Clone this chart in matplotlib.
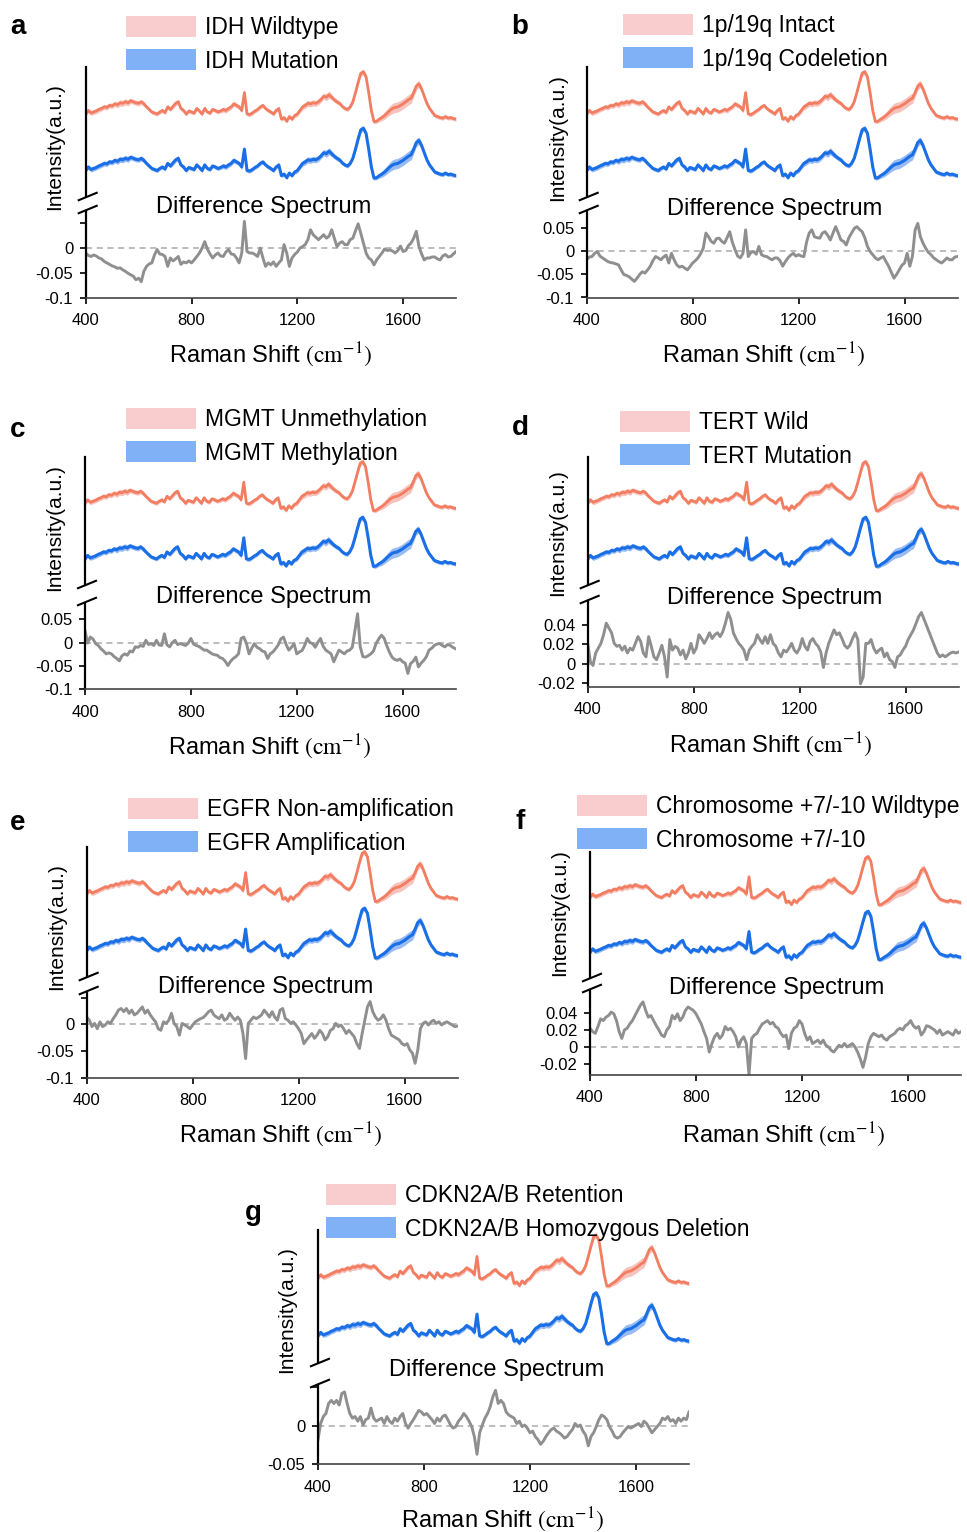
import numpy as np
import matplotlib
matplotlib.use('Agg')
import matplotlib.pyplot as plt
from matplotlib.patches import Patch
from matplotlib.lines import Line2D

plt.rcParams['font.family'] = ['Liberation Sans', 'DejaVu Sans']
plt.rcParams['mathtext.fontset'] = 'stix'

# ---------------- data ----------------
raman_shift = np.arange(400, 1801, 10)

# mean normalised spectrum (same shape for both groups in every panel)
mean_spectrum = [
    0.17, 0.24, 0.19, 0.21, 0.23, 0.26, 0.28, 0.31, 0.30, 0.34,
    0.33, 0.37, 0.35, 0.39, 0.38, 0.41, 0.39, 0.43, 0.41, 0.39,
    0.38, 0.41, 0.37, 0.31, 0.26, 0.21, 0.19, 0.17, 0.21, 0.24,
    0.20, 0.31, 0.26, 0.32, 0.38, 0.41, 0.28, 0.24, 0.17, 0.23,
    0.21, 0.19, 0.28, 0.23, 0.17, 0.28, 0.21, 0.19, 0.26, 0.24,
    0.21, 0.23, 0.26, 0.24, 0.28, 0.31, 0.37, 0.34, 0.31, 0.24,
    0.59, 0.17, 0.16, 0.19, 0.23, 0.26, 0.31, 0.34, 0.28, 0.24,
    0.21, 0.17, 0.24, 0.28, 0.07, 0.10, 0.03, 0.12, 0.07, 0.14,
    0.17, 0.24, 0.31, 0.34, 0.38, 0.37, 0.39, 0.38, 0.41, 0.46,
    0.52, 0.50, 0.55, 0.50, 0.45, 0.41, 0.38, 0.32, 0.28, 0.26,
    0.31, 0.41, 0.59, 0.79, 0.97, 1.00, 0.90, 0.59, 0.24, 0.02,
    0.03, 0.07, 0.10, 0.14, 0.19, 0.24, 0.28, 0.30, 0.31, 0.34,
    0.37, 0.41, 0.45, 0.48, 0.59, 0.72, 0.76, 0.66, 0.52, 0.38,
    0.28, 0.21, 0.14, 0.12, 0.10, 0.09, 0.12, 0.09, 0.10, 0.08,
    0.07,
]

# half width of the shaded band around each mean spectrum
band_halfwidth = [
    .04, .04, .05, .05, .05, .05, .05, .05, .05, .05,
    .05, .05, .06, .06, .06, .06, .06, .05, .05, .05,
    .05, .05, .05, .04, .04, .04, .04, .04, .04, .04,
    .04, .04, .04, .05, .05, .05, .04, .04, .04, .04,
    .04, .04, .04, .04, .04, .04, .04, .04, .04, .04,
    .04, .04, .05, .05, .05, .05, .05, .05, .04, .05,
    .07, .04, .04, .04, .04, .04, .04, .04, .04, .04,
    .04, .04, .04, .04, .04, .04, .04, .04, .04, .04,
    .05, .05, .06, .06, .06, .06, .06, .06, .06, .06,
    .06, .07, .07, .06, .05, .05, .04, .04, .04, .04,
    .04, .04, .05, .05, .06, .05, .05, .04, .04, .04,
    .04, .05, .06, .07, .08, .09, .10, .10, .10, .10,
    .10, .10, .10, .10, .09, .08, .07, .06, .05, .05,
    .04, .04, .04, .04, .04, .04, .04, .04, .04, .04,
    .04,
]

diff_idh = [
    -0.010, -0.015, -0.017, -0.014, -0.016, -0.020, -0.022, -0.027, -0.030, -0.033,
    -0.036, -0.038, -0.041, -0.040, -0.044, -0.047, -0.051, -0.054, -0.057, -0.064,
    -0.061, -0.068, -0.047, -0.037, -0.032, -0.030, -0.014, -0.003, -0.012, -0.013,
    -0.017, -0.037, -0.020, -0.026, -0.022, -0.017, -0.033, -0.028, -0.030, -0.026,
    -0.030, -0.024, -0.017, -0.010, 0.000, 0.013, -0.002, -0.012, -0.020, -0.014,
    -0.010, -0.016, -0.017, -0.008, -0.003, -0.012, -0.013, -0.020, -0.030, -0.010,
    0.054, -0.007, -0.010, -0.010, -0.013, -0.017, 0.000, -0.020, -0.037, -0.030,
    -0.034, -0.028, -0.037, -0.030, -0.024, 0.007, -0.010, -0.037, -0.020, -0.013,
    -0.008, 0.000, 0.003, 0.007, 0.017, 0.037, 0.027, 0.022, 0.017, 0.022,
    0.027, 0.020, 0.024, 0.037, 0.020, 0.003, 0.010, 0.013, 0.007, 0.007,
    0.017, 0.020, 0.035, 0.049, 0.030, 0.010, -0.010, -0.020, -0.024, -0.034,
    -0.024, -0.017, -0.010, -0.002, -0.005, -0.004, -0.006, -0.010, -0.005, 0.004,
    -0.007, -0.005, 0.005, 0.010, 0.020, 0.034, 0.003, -0.012, -0.024, -0.020,
    -0.020, -0.018, -0.018, -0.022, -0.024, -0.016, -0.013, -0.018, -0.017, -0.012,
    -0.007,
]

diff_1p19q = [
    -0.018, -0.012, -0.011, -0.004, 0.000, -0.010, -0.014, -0.018, -0.022, -0.024,
    -0.025, -0.027, -0.029, -0.040, -0.050, -0.052, -0.055, -0.060, -0.065, -0.058,
    -0.050, -0.044, -0.047, -0.040, -0.032, -0.020, -0.011, -0.014, -0.018, -0.012,
    -0.008, -0.025, -0.004, -0.018, -0.029, -0.034, -0.032, -0.036, -0.040, -0.033,
    -0.025, -0.020, -0.014, -0.005, 0.007, 0.040, 0.032, 0.022, 0.018, 0.028,
    0.029, 0.022, 0.018, 0.030, 0.043, 0.020, 0.004, -0.010, -0.014, -0.004,
    0.047, -0.011, -0.002, 0.000, -0.006, 0.011, -0.007, -0.010, -0.011, -0.015,
    -0.018, -0.014, -0.014, -0.020, -0.032, -0.022, -0.014, -0.008, -0.004, -0.010,
    -0.007, -0.010, -0.011, 0.020, 0.040, 0.047, 0.032, 0.030, 0.029, 0.040,
    0.043, 0.035, 0.025, 0.040, 0.054, 0.040, 0.025, 0.022, 0.014, 0.030,
    0.040, 0.050, 0.054, 0.048, 0.043, 0.030, 0.011, 0.000, -0.007, -0.014,
    -0.018, -0.014, -0.011, -0.022, -0.032, -0.045, -0.058, -0.050, -0.040, -0.030,
    -0.025, -0.004, -0.032, -0.010, 0.047, 0.061, 0.032, 0.018, 0.007, -0.002,
    -0.007, -0.014, -0.018, -0.022, -0.025, -0.020, -0.014, -0.018, -0.018, -0.012,
    -0.011,
]

diff_mgmt = [
    0.026, -0.001, 0.012, 0.008, -0.002, -0.006, -0.013, -0.018, -0.024, -0.022,
    -0.024, -0.030, -0.034, -0.039, -0.028, -0.024, -0.027, -0.018, -0.020, -0.009,
    -0.010, -0.006, -0.008, 0.005, -0.004, -0.002, -0.006, 0.005, -0.005, -0.006,
    0.019, -0.005, -0.009, 0.000, 0.005, -0.004, -0.002, -0.004, -0.006, -0.001,
    0.009, -0.003, -0.006, -0.008, -0.012, -0.016, -0.016, -0.020, -0.024, -0.026,
    -0.027, -0.032, -0.034, -0.040, -0.049, -0.040, -0.034, -0.030, -0.024, 0.009,
    0.012, -0.002, -0.024, -0.012, -0.002, -0.010, -0.013, -0.018, -0.020, -0.034,
    -0.024, -0.020, -0.013, -0.005, 0.008, 0.012, -0.004, -0.016, -0.010, -0.002,
    -0.024, -0.020, -0.017, -0.006, 0.009, 0.000, -0.002, -0.010, 0.001, 0.009,
    -0.008, -0.016, -0.020, -0.024, -0.041, -0.028, -0.016, -0.020, -0.024, -0.018,
    -0.016, -0.010, 0.026, 0.062, -0.009, -0.030, -0.031, -0.028, -0.024, -0.018,
    -0.002, 0.008, 0.016, 0.010, -0.006, -0.020, -0.031, -0.036, -0.038, -0.035,
    -0.041, -0.044, -0.066, -0.045, -0.040, -0.031, -0.052, -0.044, -0.038, -0.030,
    -0.016, -0.012, -0.006, -0.003, -0.002, -0.006, -0.009, -0.004, -0.006, -0.010,
    -0.013,
]

diff_tert = [
    0.021, 0.002, -0.002, 0.011, 0.016, 0.021, 0.030, 0.042, 0.037, 0.032,
    0.021, 0.018, 0.019, 0.014, 0.018, 0.011, 0.016, 0.014, 0.021, 0.028,
    0.023, 0.011, 0.007, 0.028, 0.018, 0.007, 0.004, 0.011, 0.019, 0.007,
    -0.014, 0.025, 0.014, 0.018, 0.016, 0.009, 0.014, 0.005, 0.011, 0.021,
    0.011, 0.016, 0.030, 0.026, 0.021, 0.026, 0.032, 0.026, 0.030, 0.032,
    0.028, 0.033, 0.042, 0.053, 0.046, 0.032, 0.026, 0.021, 0.018, 0.014,
    0.004, 0.014, 0.018, 0.021, 0.030, 0.025, 0.021, 0.028, 0.021, 0.030,
    0.021, 0.018, 0.011, 0.007, 0.014, 0.012, 0.016, 0.021, 0.014, 0.011,
    0.016, 0.026, 0.018, 0.014, 0.023, 0.026, 0.021, 0.018, 0.012, -0.004,
    0.011, 0.021, 0.028, 0.035, 0.030, 0.032, 0.026, 0.019, 0.016, 0.019,
    0.026, 0.032, 0.025, -0.021, -0.014, 0.021, 0.021, 0.025, 0.016, 0.011,
    0.014, 0.016, 0.007, 0.011, 0.004, 0.002, -0.004, 0.007, 0.009, 0.014,
    0.018, 0.025, 0.030, 0.035, 0.042, 0.049, 0.053, 0.046, 0.039, 0.032,
    0.025, 0.018, 0.011, 0.007, 0.009, 0.007, 0.009, 0.011, 0.012, 0.011,
    0.012,
]

diff_egfr = [
    0.014, 0.008, -0.004, 0.002, -0.008, 0.005, -0.004, -0.001, 0.005, 0.002,
    0.011, 0.018, 0.027, 0.030, 0.024, 0.030, 0.021, 0.027, 0.018, 0.021,
    0.027, 0.033, 0.021, 0.027, 0.018, 0.011, 0.005, -0.008, -0.011, 0.005,
    0.002, 0.008, 0.021, 0.002, -0.004, -0.020, 0.002, -0.001, -0.004, -0.008,
    -0.001, 0.005, 0.008, 0.011, 0.013, 0.018, 0.024, 0.027, 0.018, 0.014,
    0.011, 0.018, 0.008, 0.011, 0.021, 0.014, 0.008, 0.014, 0.008, -0.017,
    -0.064, 0.002, 0.008, 0.014, 0.011, 0.014, 0.018, 0.027, 0.021, 0.014,
    0.024, 0.014, 0.008, 0.027, 0.030, 0.011, 0.008, 0.002, 0.005, -0.001,
    -0.008, -0.017, -0.036, -0.029, -0.023, -0.017, -0.026, -0.020, -0.011, -0.017,
    -0.029, -0.023, -0.011, -0.008, 0.002, -0.004, -0.001, -0.008, -0.017, -0.011,
    -0.017, -0.023, -0.036, -0.045, -0.017, 0.008, 0.033, 0.043, 0.024, 0.014,
    0.008, 0.011, 0.018, 0.008, -0.008, -0.020, -0.023, -0.026, -0.029, -0.036,
    -0.039, -0.036, -0.048, -0.054, -0.073, -0.048, -0.008, 0.002, 0.005, -0.001,
    0.005, 0.008, 0.002, 0.005, -0.001, 0.003, 0.005, 0.002, -0.001, -0.004,
    -0.003,
]

diff_chr710 = [
    0.022, 0.018, 0.016, 0.024, 0.033, 0.031, 0.035, 0.037, 0.041, 0.039,
    0.031, 0.018, 0.010, 0.020, 0.022, 0.027, 0.031, 0.037, 0.043, 0.049,
    0.053, 0.043, 0.035, 0.037, 0.031, 0.025, 0.020, 0.014, 0.012, 0.020,
    0.024, 0.037, 0.033, 0.039, 0.031, 0.035, 0.043, 0.047, 0.045, 0.043,
    0.039, 0.033, 0.027, 0.018, 0.010, -0.006, 0.004, 0.012, 0.016, 0.010,
    0.014, 0.024, 0.020, 0.022, 0.018, 0.012, 0.000, 0.008, 0.012, 0.004,
    -0.033, 0.010, 0.014, 0.016, 0.022, 0.027, 0.029, 0.031, 0.027, 0.029,
    0.024, 0.022, 0.016, 0.012, 0.014, -0.002, 0.016, 0.022, 0.024, 0.031,
    0.027, 0.016, 0.008, 0.012, 0.004, 0.006, 0.008, 0.004, 0.008, 0.002,
    0.000, -0.004, -0.006, -0.002, 0.002, 0.000, 0.004, 0.000, 0.002, 0.004,
    0.000, -0.006, -0.014, -0.024, -0.012, 0.004, 0.012, 0.016, 0.014, 0.012,
    0.014, 0.010, 0.008, 0.012, 0.014, 0.016, 0.020, 0.022, 0.020, 0.025,
    0.027, 0.031, 0.025, 0.022, 0.024, 0.014, 0.018, 0.025, 0.024, 0.022,
    0.020, 0.016, 0.020, 0.014, 0.016, 0.018, 0.016, 0.014, 0.020, 0.016,
    0.018,
]

diff_cdkn2ab = [
    -0.018, 0.003, 0.012, 0.016, 0.029, 0.033, 0.029, 0.033, 0.027, 0.042,
    0.044, 0.029, 0.016, 0.010, 0.012, 0.006, 0.012, 0.001, 0.008, 0.010,
    0.023, 0.010, 0.006, 0.008, 0.010, 0.003, 0.012, 0.006, 0.003, 0.010,
    0.006, 0.012, 0.016, 0.003, -0.003, 0.003, 0.008, 0.014, 0.020, 0.018,
    0.014, 0.016, 0.012, 0.008, 0.003, 0.010, 0.006, 0.012, 0.014, 0.008,
    0.001, -0.003, -0.001, 0.006, 0.010, 0.016, 0.012, 0.006, -0.001, -0.014,
    -0.037, -0.009, 0.001, 0.010, 0.016, 0.025, 0.038, 0.046, 0.029, 0.033,
    0.029, 0.018, 0.014, 0.012, 0.010, 0.003, 0.006, -0.001, 0.001, -0.003,
    -0.009, -0.007, -0.014, -0.018, -0.024, -0.020, -0.014, -0.009, -0.005, -0.003,
    -0.007, -0.009, -0.012, -0.016, -0.014, -0.009, -0.005, 0.003, -0.001, 0.001,
    -0.007, -0.012, -0.026, -0.014, -0.009, -0.001, 0.008, 0.014, 0.012, 0.008,
    -0.001, -0.007, -0.014, -0.016, -0.014, -0.009, -0.005, -0.001, -0.003, -0.001,
    0.001, 0.003, -0.001, 0.006, 0.003, -0.003, -0.009, -0.005, -0.001, 0.003,
    0.010, 0.008, 0.012, 0.006, 0.008, 0.003, 0.010, 0.006, 0.010, 0.008,
    0.018,
]

diff_spectra = [diff_idh, diff_1p19q, diff_mgmt, diff_tert, diff_egfr, diff_chr710, diff_cdkn2ab]

group_labels = [
    ('IDH Wildtype', 'IDH Mutation'),
    ('1p/19q Intact', '1p/19q Codeletion'),
    ('MGMT Unmethylation', 'MGMT Methylation'),
    ('TERT Wild', 'TERT Mutation'),
    ('EGFR Non-amplification', 'EGFR Amplification'),
    ('Chromosome +7/-10 Wildtype', 'Chromosome +7/-10'),
    ('CDKN2A/B Retention', 'CDKN2A/B Homozygous Deletion'),
]
panel_letters = ['a', 'b', 'c', 'd', 'e', 'f', 'g']

diff_ylims = [(-0.1, 0.075), (-0.1, 0.088), (-0.1, 0.085), (-0.024, 0.065),
              (-0.1, 0.061), (-0.033, 0.067), (-0.05, 0.053)]
diff_yticks = [
    ([0.05, 0, -0.05, -0.1], ['', '0', '-0.05', '-0.1']),
    ([0.05, 0, -0.05, -0.1], ['0.05', '0', '-0.05', '-0.1']),
    ([0.05, 0, -0.05, -0.1], ['0.05', '0', '-0.05', '-0.1']),
    ([0.04, 0.02, 0, -0.02], ['0.04', '0.02', '0', '-0.02']),
    ([0.05, 0, -0.05, -0.1], ['', '0', '-0.05', '-0.1']),
    ([0.04, 0.02, 0, -0.02], ['0.04', '0.02', '0', '-0.02']),
    ([0.05, 0, -0.05], ['', '0', '-0.05']),
]
x_ticks = [400, 800, 1200, 1600]

# ---------------- layout (pixel positions in the 967x1532 canvas) ----------------
W, H = 967, 1532
layouts = [
    dict(x=(85.7, 456), up=(66.7, 196), lo=(211, 297.5), letter=(18, 27), ylab=(55, 147),
         title=(264, 207), xlab=(271, 355), leg=(126, 15)),
    dict(x=(586.7, 957.5), up=(66.7, 196), lo=(211, 297.5), letter=(520, 27), ylab=(558, 138),
         title=(775, 209), xlab=(764, 355), leg=(623, 13)),
    dict(x=(85, 455.5), up=(456.7, 584), lo=(603, 689.3), letter=(18, 430), ylab=(55, 528),
         title=(264, 597), xlab=(270, 747), leg=(126, 407)),
    dict(x=(587.7, 958.5), up=(456.7, 584), lo=(601, 686.7), letter=(520, 428), ylab=(558, 533),
         title=(775, 598), xlab=(771, 745), leg=(620, 410)),
    dict(x=(86.7, 457.5), up=(846.7, 976), lo=(992, 1077.7), letter=(18, 823), ylab=(57, 927),
         title=(266, 987), xlab=(281, 1135), leg=(128, 797)),
    dict(x=(590, 961), up=(851.7, 977), lo=(990, 1075), letter=(520, 822), ylab=(560, 913),
         title=(777, 988), xlab=(784, 1135), leg=(577, 794)),
    dict(x=(318, 689), up=(1230, 1362), lo=(1385, 1464.3), letter=(253, 1213), ylab=(287, 1310),
         title=(497, 1370), xlab=(503, 1520), leg=(326, 1183)),
]

orange_line, orange_band = '#f27d60', '#f5a99e'
blue_line, blue_band = '#1a6fe6', '#6d9ef0'
legend_pink, legend_blue = '#f9cdcd', '#80b1f6'
diff_color = '#8f8f8f'
curve_offset = 1.11


def fx(x):
    return x / W


def fy(y):
    return 1 - y / H


fig = plt.figure(figsize=(W / 100, H / 100), dpi=100)
spec = np.array(mean_spectrum)
band = np.array(band_halfwidth)

for i, lay in enumerate(layouts):
    x0, x1 = lay['x']
    ut, ub = lay['up']
    lt, lb = lay['lo']

    # upper panel: the two mean spectra with shaded bands
    ax_up = fig.add_axes([fx(x0), fy(ub), (x1 - x0) / W, (ub - ut) / H])
    ax_up.fill_between(raman_shift, spec + curve_offset - band, spec + curve_offset + band,
                       color=orange_band, alpha=0.7, lw=0)
    ax_up.plot(raman_shift, spec + curve_offset, color=orange_line, lw=2.0)
    ax_up.fill_between(raman_shift, spec - band, spec + band, color=blue_band, alpha=0.7, lw=0)
    ax_up.plot(raman_shift, spec, color=blue_line, lw=2.2)
    ax_up.set_xlim(400, 1800)
    ax_up.set_ylim(-0.33, 2.21)
    for sp in ['top', 'right', 'bottom']:
        ax_up.spines[sp].set_visible(False)
    ax_up.spines['left'].set_linewidth(1.6)
    ax_up.set_xticks([])
    ax_up.set_yticks([])
    ax_up.patch.set_alpha(0)

    # lower panel: difference spectrum
    ax_lo = fig.add_axes([fx(x0), fy(lb), (x1 - x0) / W, (lb - lt) / H])
    ax_lo.axhline(0, color='#aaaaaa', lw=1.1, ls=(0, (4, 3)), zorder=1)
    ax_lo.plot(raman_shift, diff_spectra[i], color=diff_color, lw=2.1, zorder=2)
    ax_lo.set_xlim(400, 1800)
    ax_lo.set_ylim(*diff_ylims[i])
    ticks, labels = diff_yticks[i]
    ax_lo.set_yticks(ticks, labels)
    ax_lo.set_xticks(x_ticks, [str(t) for t in x_ticks])
    for sp in ['top', 'right']:
        ax_lo.spines[sp].set_visible(False)
    ax_lo.spines['left'].set_linewidth(1.6)
    ax_lo.spines['bottom'].set_linewidth(1.2)
    ax_lo.spines['bottom'].set_color('#444444')
    ax_lo.tick_params(direction='out', length=4, width=1.2, labelsize=12, pad=5)
    ax_lo.tick_params(axis='x', pad=7)
    ax_lo.patch.set_alpha(0)

    # axis break marks on the left spine
    for yb in (ub + 0.5, lt - 1.5):
        fig.add_artist(Line2D([fx(x0 - 7), fx(x0 + 11)], [fy(yb + 3.7), fy(yb - 3.7)],
                              color='black', lw=1.5, transform=fig.transFigure))

    # texts
    fig.text(fx(lay['letter'][0]), fy(lay['letter'][1]), panel_letters[i],
             fontsize=20, fontweight='bold', ha='center', va='center')
    fig.text(fx(lay['ylab'][0]), fy(lay['ylab'][1]), 'Intensity(a.u.)',
             fontsize=15, rotation=90, ha='center', va='center')
    fig.text(fx(lay['title'][0]), fy(lay['title'][1]), 'Difference Spectrum',
             fontsize=17, ha='center', va='center')
    fig.text(fx(lay['xlab'][0]), fy(lay['xlab'][1]), r'Raman Shift $(\mathrm{cm}^{-1})$',
             fontsize=17, ha='center', va='center')

    # legend
    handles = [Patch(facecolor=legend_pink, edgecolor='none', label=group_labels[i][0]),
               Patch(facecolor=legend_blue, edgecolor='none', label=group_labels[i][1])]
    fig.legend(handles=handles, loc='upper left',
               bbox_to_anchor=(fx(lay['leg'][0]), fy(lay['leg'][1] + 1)),
               bbox_transform=fig.transFigure, frameon=False, fontsize=16.5,
               handlelength=3.05, handleheight=1.05, handletextpad=0.4,
               labelspacing=0.42, borderpad=0, borderaxespad=0)

fig.savefig('out.png', dpi=100)
